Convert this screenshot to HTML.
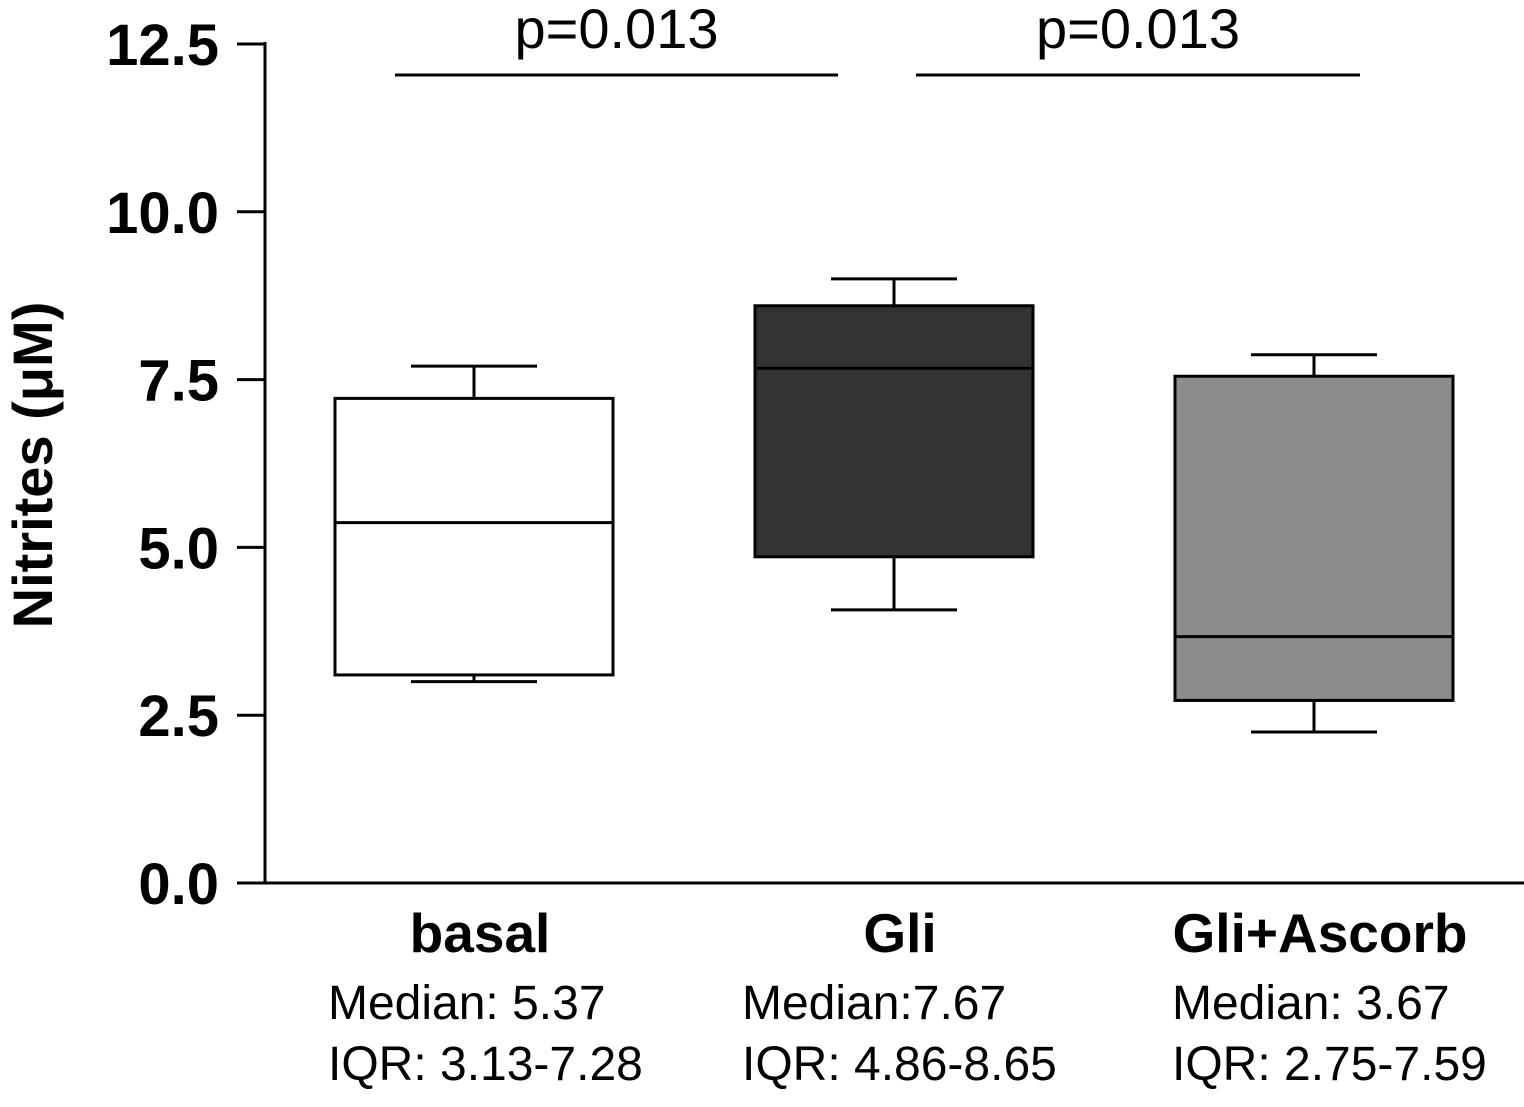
<!DOCTYPE html>
<html><head><meta charset="utf-8"><style>
body{margin:0;background:#fff}
svg text{font-family:"Liberation Sans",Arial,sans-serif;fill:#000}
</style></head><body>
<svg id="chart" width="1524" height="1102" xmlns="http://www.w3.org/2000/svg"></svg>
<script>
const categories=["basal","Gli","Gli+Ascorb"];
const mins=[3.0,4.07,2.25];
const q1s=[3.1,4.86,2.72];
const medians=[5.37,7.67,3.67];
const q3s=[7.22,8.6,7.55];
const maxs=[7.7,9.0,7.87];
const fills=["#ffffff","#333333","#8c8c8c"];
const yTicks=[0,2.5,5,7.5,10,12.5];
const yTickLabels=["0.0","2.5","5.0","7.5","10.0","12.5"];
const medianTexts=["Median: 5.37","Median:7.67","Median: 3.67"];
const iqrTexts=["IQR: 3.13-7.28","IQR: 4.86-8.65","IQR: 2.75-7.59"];
const pValues=["p=0.013","p=0.013"];

const svg=document.getElementById('chart');
const NS="http://www.w3.org/2000/svg";
const y0=883,y1=44,vmax=12.5;
const yS=v=>y0-(v/vmax)*(y0-y1);
const centers=[474,894,1314];
const xS=i=>centers[i];
const textLeft=[328,742,1172];
function mk(t,a,p){const e=document.createElementNS(NS,t);for(const k in a)e.setAttribute(k,a[k]);(p||svg).appendChild(e);return e;}
function line(x1,y1_,x2,y2,p){return mk('line',{x1:x1,y1:y1_,x2:x2,y2:y2,stroke:'#000','stroke-width':3},p);}

const ax=line(265,42,265,884);


const xa=line(264,883,1524,883);


yTicks.forEach((v,i)=>{
  const t=line(237,yS(v),265,yS(v));
  
  
  const tx=mk('text',{x:219,y:yS(v)+21,'text-anchor':'end','font-size':58,'font-weight':'bold'});
  tx.textContent=yTickLabels[i];
  
  
});
const yt=mk('text',{x:0,y:0,'text-anchor':'middle','font-size':56,'font-weight':'bold',transform:'translate(52,465) rotate(-90)'});
yt.textContent='Nitrites (\u03bcM)';



const hw=139,cw=63;
categories.forEach((c,i)=>{
  const g=mk('g',{});
  
  
  const x=xS(i);
  line(x,yS(maxs[i]),x,yS(q3s[i]),g);
  line(x-cw,yS(maxs[i]),x+cw,yS(maxs[i]),g);
  line(x,yS(q1s[i]),x,yS(mins[i]),g);
  line(x-cw,yS(mins[i]),x+cw,yS(mins[i]),g);
  mk('rect',{x:x-hw,y:yS(q3s[i]),width:2*hw,height:yS(q1s[i])-yS(q3s[i]),fill:fills[i],stroke:'#000','stroke-width':3},g);
  line(x-hw,yS(medians[i]),x+hw,yS(medians[i]),g);
  const lab=mk('text',{x:x+6,y:952,'text-anchor':'middle','font-size':55,'font-weight':'bold'});
  lab.textContent=c;
  
  
  const mt=mk('text',{x:textLeft[i],y:1019,'font-size':48});
  mt.textContent=medianTexts[i];
  
  
  const it=mk('text',{x:textLeft[i],y:1080,'font-size':48});
  it.textContent=iqrTexts[i];
  
  
});
const brackets=[[395,838],[916,1360]];
brackets.forEach((b,i)=>{
  const l=line(b[0],75,b[1],75);
  
  
  const t=mk('text',{x:(b[0]+b[1])/2,y:48,'text-anchor':'middle','font-size':56});
  t.textContent=pValues[i];
  
  
});
</script>
</body></html>
